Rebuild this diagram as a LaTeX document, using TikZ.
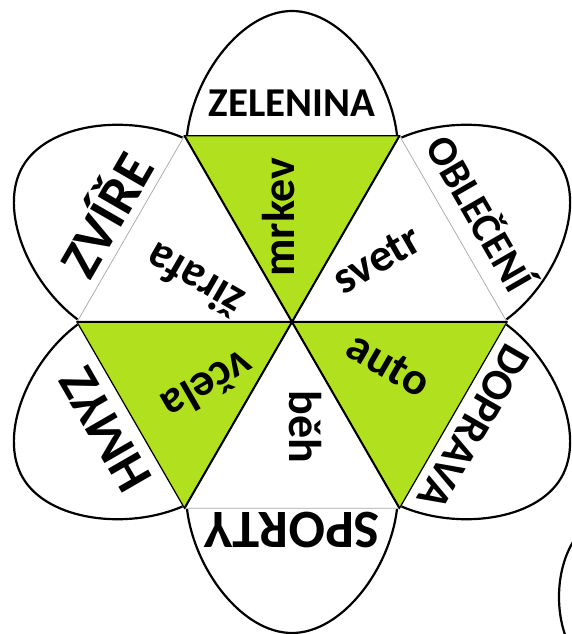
\documentclass[tikz,border=0pt]{standalone}
\usepackage{fontspec}
\setmainfont{Carlito}
\usetikzlibrary{calc,positioning}
\definecolor{leaf}{RGB}{177,225,30}

\begin{document}
\begin{tikzpicture}[x=1pt,y=1pt,
    petal/.style={draw=black,line width=2.2pt,fill=white},
    spoke/.style={black,line width=2pt},
    word/.style={font=\bfseries\fontsize{46}{50}\selectfont,anchor=mid,inner sep=0pt},
    topic/.style={anchor=base,inner sep=0pt}]
  \useasboundingbox (-292,-312) rectangle (280,322);
  \foreach \k in {0,...,5}
    \coordinate (v\k) at (60*\k:215);
  \foreach \k in {0,...,5}
    \draw[petal,rotate=60*\k-60] (-105,187) .. controls (-98,247) and (-50,311) .. (0,311)
      .. controls (50,311) and (98,247) .. (105,187);
  \fill[white] (v0) -- (v1) -- (v2) -- (v3) -- (v4) -- (v5) -- cycle;
  \draw[gray!70,line width=0.7pt] (v0) -- (v1) -- (v2) -- (v3) -- (v4) -- (v5) -- cycle;
  \foreach \k in {1,3,5}
    \filldraw[fill=leaf,draw=black,line width=1.2pt] (0,0) -- (60*\k:215) -- (60*\k+60:215) -- cycle;
  \draw[spoke] (v0) -- (v3) (v1) -- (v4) (v2) -- (v5);
  \foreach \a/\w/\t/\s/\d [count=\i] in {30/svetr/OBLEČENÍ/42/16,90/mrkev/ZELENINA/41/19,
      150/žirafa/ZVÍŘE/55/9,210/včela/HMYZ/53/12,270/běh/SPORTY/54/4,330/auto/DOPRAVA/44/10} {
    \node[word,rotate=\a] (w\i) at (\a:105) {\w};
    \node[topic,rotate=\a-90,font=\bfseries\fontsize{\s}{\s}\selectfont] (t\i) at (\a:186+\d) {\t};
  }
  \begin{scope}
    \clip (-292,-312) rectangle (280,322);
    \draw[line width=2.2pt] (318,-275) ellipse [x radius=51,y radius=80];
  \end{scope}
\end{tikzpicture}
\end{document}
